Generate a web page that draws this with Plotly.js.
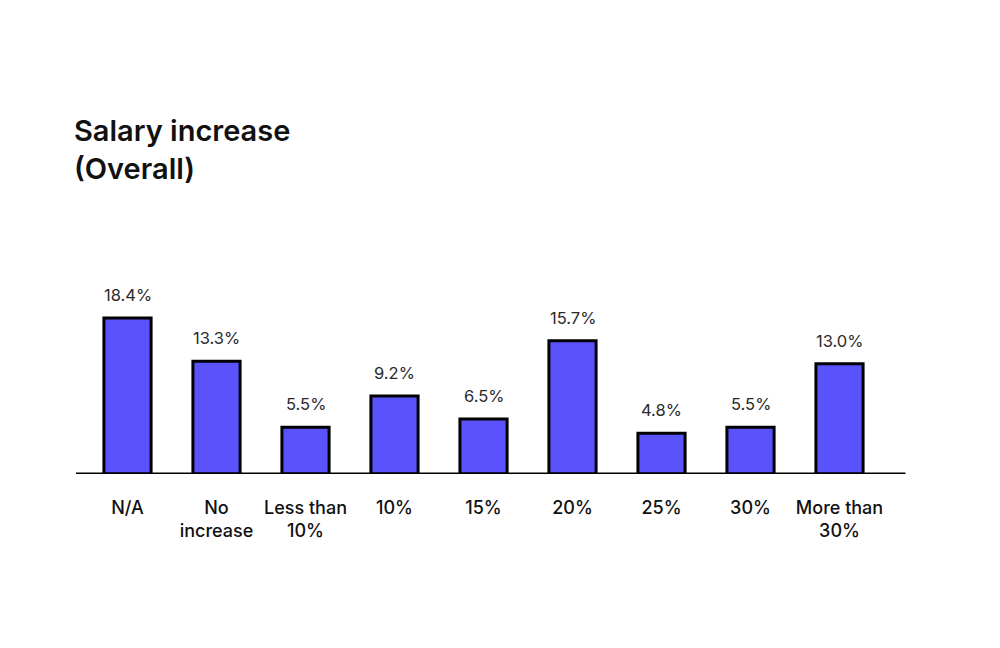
<!DOCTYPE html>
<html>
<head>
<meta charset="utf-8">
<script src="https://cdn.plot.ly/plotly-3.0.1.min.js"></script>
<style>html,body{margin:0;padding:0;background:#fff;}#chart{width:1000px;height:648px;}</style>
</head>
<body>
<div id="chart"></div>
<script>
const categories = ["N/A", "No<br>increase", "Less than<br>10%", "10%", "15%", "20%", "25%", "30%", "More than<br>30%"];
const values = [18.4, 13.3, 5.5, 9.2, 6.5, 15.7, 4.8, 5.5, 13.0];
const valueLabels = values.map(v => v.toFixed(1) + "%");

const trace = {
  type: "bar",
  x: categories,
  y: values,
  width: 0.53,
  marker: {color: "#5a52fa", line: {color: "#000000", width: 3}},
  hoverinfo: "skip"
};

const annotations = categories.map((c, i) => ({
  x: c, y: values[i], xref: "x", yref: "y",
  text: valueLabels[i], showarrow: false,
  yanchor: "bottom", yshift: 11,
  font: {family: "Inter, 'Open Sans', sans-serif", size: 16.5, color: "#2a2a2a"}
}));

const layout = {
  width: 1000, height: 648,
  paper_bgcolor: "#ffffff", plot_bgcolor: "#ffffff",
  margin: {l: 83, r: 115.5, t: 262, b: 174},
  showlegend: false,
  title: {
    text: "Salary increase<br>(Overall)",
    x: 74 / 1000, xanchor: "left", xref: "container",
    y: 1 - 141 / 648, yanchor: "top", yref: "container",
    font: {family: "Inter, 'Open Sans', sans-serif", size: 29, color: "#111111", weight: 600}
  },
  xaxis: {
    type: "category",
    range: [-0.5, 8.5],
    showgrid: false, zeroline: false, showline: false,
    ticks: "outside", ticklen: 17, tickcolor: "rgba(0,0,0,0)",
    tickfont: {family: "Inter, 'Open Sans', sans-serif", size: 18, color: "#111111", weight: 500}
  },
  yaxis: {
    range: [0, 25],
    visible: false, showgrid: false, zeroline: false
  },
  shapes: [{
    type: "line", xref: "paper", yref: "y",
    x0: (76 - 83) / 801.5, x1: (906 - 83) / 801.5, y0: 0, y1: 0,
    line: {color: "#000000", width: 3}
  }],
  annotations: annotations
};

Plotly.newPlot("chart", [trace], layout, {displayModeBar: false, staticPlot: true});
</script>
</body>
</html>
